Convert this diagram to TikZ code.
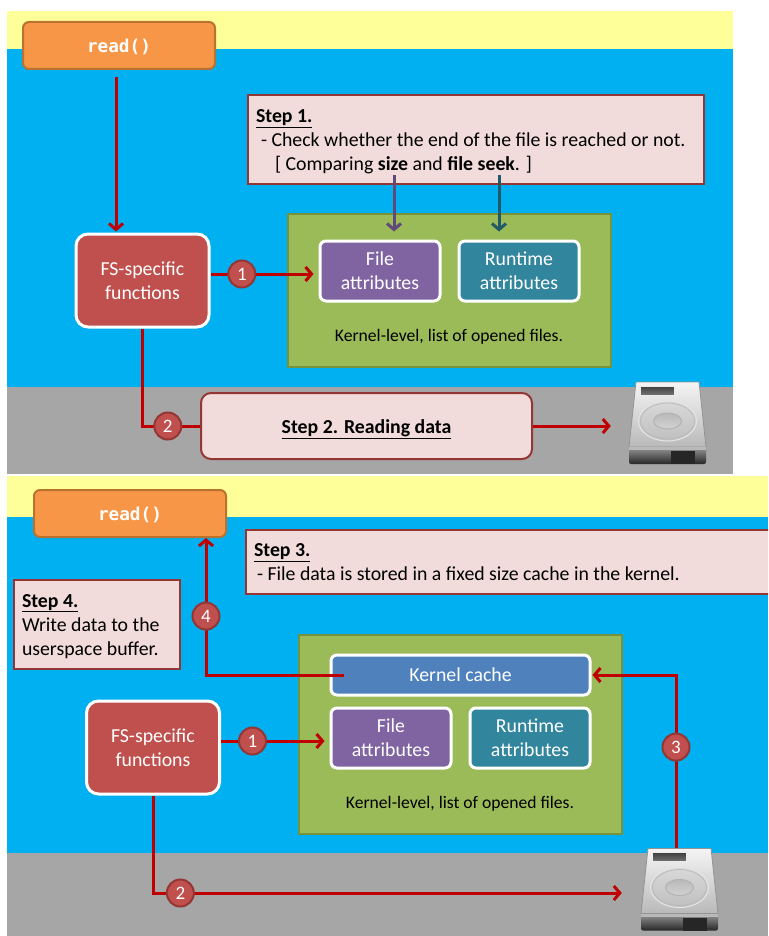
\documentclass[tikz,border=0pt]{standalone}
\usepackage{fontspec}
\setmainfont{Carlito}
\setmonofont{DejaVu Sans Mono}
\usetikzlibrary{arrows.meta}
\definecolor{paneyellow}{HTML}{FFFF99}
\definecolor{paneblue}{HTML}{00B0F0}
\definecolor{panegray}{HTML}{A6A6A6}
\definecolor{linered}{HTML}{C00000}
\definecolor{markred}{HTML}{C0504D}
\definecolor{markedge}{HTML}{943634}
\definecolor{notefill}{HTML}{F2DCDB}
\definecolor{greenfill}{HTML}{9BBB59}
\definecolor{greenedge}{HTML}{76923C}
\definecolor{readfill}{HTML}{F79646}
\definecolor{readedge}{HTML}{B9722F}
\definecolor{filefill}{HTML}{8064A2}
\definecolor{fileline}{HTML}{604A7B}
\definecolor{runfill}{HTML}{31859C}
\definecolor{runline}{HTML}{215968}
\definecolor{cachefill}{HTML}{4F81BD}
\tikzset{
	bodytext/.style={font=\fontsize{19.8}{24}\selectfont},
	readbox/.style={draw=readedge,fill=readfill,line width=2pt,rounded corners=6pt,text=white,font=\ttfamily\bfseries\fontsize{17.7}{20}\selectfont,text height=16pt,text depth=2pt,minimum width=192pt,minimum height=47pt},
	notebox/.style={draw=markedge,fill=notefill,line width=2pt,bodytext,align=flush left},
	funcbox/.style={draw=white,fill=markred,line width=3pt,rounded corners=12pt,text=white,bodytext,align=center,minimum width=133pt,minimum height=93pt},
	attrbox/.style={draw=white,line width=3pt,rounded corners=6pt,text=white,bodytext,align=center,minimum width=120pt,minimum height=60pt},
	greenbox/.style={draw=greenedge,fill=greenfill,line width=2.5pt,minimum width=323pt},
	kerneltext/.style={font=\fontsize{17.6}{20}\selectfont},
	stepmark/.style={circle,draw=markedge,fill=markred,line width=2pt,text=white,inner sep=0pt,minimum size=27pt,font=\fontsize{19}{20}\selectfont},
	redarrow/.style={draw=linered,line width=3pt,-{Straight Barb[length=6pt,width=14pt]}},
	diskbox/.style={minimum width=77pt,minimum height=82pt,inner sep=0pt},
	harddisk/.pic={
		\shade[top color=gray!80,bottom color=black!85,rounded corners=2pt] (-38.5,24) rectangle (38.5,41);
		\fill[black!85] (3.5,28) rectangle (27.5,41);
		\shade[top color=white!92!gray,bottom color=gray!55,draw=gray!85,line width=0.8pt] (-31.5,-41) -- (31.5,-41) -- (38.5,24) -- (-38.5,24) -- cycle;
		\fill[gray!55] (-38.5,24) rectangle (38.5,27);
		\shade[top color=black!75,bottom color=black!55,draw=white!85!gray,line width=0.6pt] (-27.5,-37) rectangle (6.5,-28);
		\shade[top color=gray!30,bottom color=gray!50,draw=white!80!gray,line width=1pt] (0,-2) ellipse [x radius=29pt,y radius=20pt];
		\draw[gray!55,line width=0.7pt] (0,-2) ellipse [x radius=27pt,y radius=18pt];
		\shade[top color=gray!55,bottom color=gray!35,draw=gray!60,line width=1pt] (0,-2) ellipse [x radius=14pt,y radius=8pt];
	}
}
\begin{document}
\begin{tikzpicture}[x=1pt,y=-1pt]
	 \useasboundingbox (0,0) rectangle (768,936);
	 \clip (0,0) rectangle (768,936);
	 %
	 %Upper panel
	 \fill[paneyellow] (7,11) rectangle (733,49);
	 \fill[paneblue] (7,49) rectangle (733,387);
	 \fill[panegray] (7,387) rectangle (733,474);
	 %
	 %Lower panel
	 \fill[paneyellow] (7,476) rectangle (768,517);
	 \fill[paneblue] (7,517) rectangle (768,853);
	 \fill[panegray] (7,853) rectangle (768,936);
	 %
	 \node (readtop) at (119,45.5) [readbox] {read()};
	 %
	 \node (stepone) at (476,139.5) [notebox,minimum width=456pt,minimum height=89pt,text width=440pt,text height=18pt] {\underline{\textbf{Step 1.}}\\\hspace*{5pt}- Check whether the end of the file is reached or not.\\\hspace*{19pt}[ Comparing \textbf{size} and \textbf{file seek}. ]};
	 %
	 \node (greentop) at (449.5,290.5) [greenbox,minimum height=153pt] {};
	 %
	 \node (kerneltop) at (449,336.5) [kerneltext] {Kernel-level, list of opened files.};
	 %
	 \node (fstop) at (142.5,280.5) [funcbox] {FS-specific\\functions};
	 %
	 \node (filetop) at (380,271) [attrbox,fill=filefill] {File\\attributes};
	 %
	 \node (runtop) at (519,271) [attrbox,fill=runfill] {Runtime\\attributes};
	 %
	 \node (readingdata) at (366.5,426) [notebox,rounded corners=10pt,minimum width=331pt,minimum height=66pt,align=center,text height=14pt,text depth=0pt] {\underline{\textbf{Step 2. Reading data}}};
	 %
	 \node (disktop) at (667.5,423) [diskbox] {};
	 \pic at (disktop) {harddisk};
	 %
	 \coordinate (sizeword) at (394,175);
	 \coordinate (seekword) at (499,175);
	 %
	 %read-FS
	 \draw[redarrow,shorten <=7pt,shorten >=1pt] ([xshift=-3pt]readtop.south) -- ([xshift=-26.5pt]fstop.north);
	 %
	 %size-File attributes
	 \draw[redarrow,draw=fileline,shorten >=8pt] (sizeword) -- (sizeword |- filetop.north);
	 %
	 %file seek-Runtime attributes
	 \draw[redarrow,draw=runline,shorten >=8pt] (seekword) -- (seekword |- runtop.north);
	 %
	 %FS-File attributes
	 \draw[redarrow,shorten >=5pt] ([yshift=6.5pt]fstop.east) -- node[pos=.29,stepmark] (marktopa) {1} ([yshift=-3pt]filetop.west);
	 %
	 %FS-Reading data
	 \draw[draw=linered,line width=3pt] (fstop.south) |- node[pos=.72,stepmark] (marktopb) {2} (readingdata.west);
	 %
	 %Reading data-disk
	 \draw[redarrow,shorten >=18pt] (readingdata.east) -- (readingdata.east -| disktop.west);
	 %
	 \node (readbot) at (130,513.5) [readbox] {read()};
	 %
	 \node (stepthree) at (509,562) [notebox,minimum width=526pt,minimum height=64pt,text width=510pt] {\underline{\textbf{Step 3.}}\\\hspace*{3pt}- File data is stored in a fixed size cache in the kernel.};
	 %
	 \node (stepfour) at (97,624.5) [notebox,minimum width=166pt,minimum height=89pt,text width=150pt,text height=16.5pt] {\underline{\textbf{Step 4.}}\\Write data to the\\userspace buffer.};
	 %
	 \node (greenbot) at (460.5,734.5) [greenbox,minimum height=199pt] {};
	 %
	 \node (kernelbot) at (460,803.5) [kerneltext] {Kernel-level, list of opened files.};
	 %
	 \node (cache) at (460.5,675) [attrbox,fill=cachefill,minimum width=259pt,minimum height=40pt] {Kernel cache};
	 %
	 \node (fsbot) at (153,747.5) [funcbox] {FS-specific\\functions};
	 %
	 \node (filebot) at (391,738) [attrbox,fill=filefill] {File\\attributes};
	 %
	 \node (runbot) at (530,738) [attrbox,fill=runfill] {Runtime\\attributes};
	 %
	 \node (diskbot) at (679.5,889.5) [diskbox] {};
	 \pic at (diskbot) {harddisk};
	 %
	 %FS-File attributes
	 \draw[redarrow,shorten >=5pt] ([yshift=6.5pt]fsbot.east) -- node[pos=.29,stepmark] (markbota) {1} ([yshift=-3pt]filebot.west);
	 %
	 %FS-disk
	 \draw[redarrow,shorten >=19pt] (fsbot.south) |- node[pos=.528,stepmark] (markbotb) {2} ([yshift=-3.5pt]diskbot.west);
	 %
	 %disk-Kernel cache
	 \draw[redarrow,shorten >=1pt] ([xshift=-3.5pt]diskbot.north) |- node[pos=.292,stepmark] (markbotc) {3} (cache.east);
	 %
	 %Kernel cache-read
	 \draw[redarrow] ([xshift=14pt]cache.west) -| node[pos=.715,stepmark] (markbotd) {4} ([xshift=76pt]readbot.south);
\end{tikzpicture}
\end{document}
